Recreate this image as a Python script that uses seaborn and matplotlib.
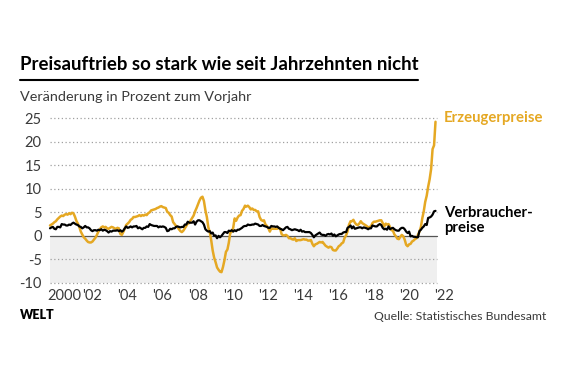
import pandas as pd
import matplotlib.pyplot as plt
import matplotlib.dates as mdates
import matplotlib.transforms as mtransforms
import seaborn as sns

OUTPUT = 'out.png'

# Veränderung zum Vorjahresmonat in %, Jan 2000 - Dez 2021 (eine Zeile je Jahr)
erzeuger = [
    2.2, 2.4, 2.6, 2.9, 3.1, 3.5, 3.8, 4.1, 4.3, 4.2, 4.5, 4.6,        # 2000
    4.5, 4.8, 4.6, 4.9, 4.8, 4.1, 3.2, 2.6, 1.9, 0.9, 0.3, -0.3,       # 2001
    -0.6, -1.0, -1.3, -1.4, -1.4, -1.2, -0.8, -0.4, 0.2, 0.9, 1.4, 1.8,  # 2002
    2.0, 1.8, 1.9, 1.6, 1.5, 1.7, 1.9, 1.8, 1.6, 1.5, 1.7, 1.6,        # 2003
    0.4, 0.2, 0.8, 1.5, 2.3, 2.6, 2.9, 3.4, 3.6, 4.0, 4.0, 4.1,        # 2004
    4.2, 4.4, 4.2, 4.4, 4.3, 4.5, 4.4, 4.8, 5.0, 5.4, 5.5, 5.6,        # 2005
    5.7, 5.9, 6.0, 6.2, 6.3, 6.1, 6.0, 5.9, 5.1, 4.9, 4.4, 4.1,        # 2006
    2.9, 2.5, 2.1, 1.9, 1.4, 1.0, 0.8, 1.1, 1.6, 2.1, 2.7, 2.7,        # 2007
    3.3, 3.8, 4.3, 5.2, 5.9, 6.7, 7.5, 8.1, 8.3, 7.4, 5.4, 4.0,        # 2008
    1.8, 0.7, -0.9, -3.1, -4.6, -5.6, -6.7, -7.2, -7.6, -7.7, -6.6, -5.2,  # 2009
    -3.4, -2.9, -1.5, 0.6, 0.9, 1.7, 3.7, 3.2, 3.9, 4.3, 4.4, 5.3,     # 2010
    5.7, 6.4, 6.2, 6.4, 6.1, 5.6, 5.8, 5.5, 5.5, 5.2, 5.2, 4.0,        # 2011
    3.4, 3.2, 3.3, 2.4, 2.1, 1.6, 0.9, 1.6, 1.5, 1.5, 1.5, 1.5,        # 2012
    1.7, 1.5, 0.4, 0.1, 0.1, 0.2, 0.0, -0.5, -0.5, -0.7, -0.8, -0.5,   # 2013
    -1.1, -0.9, -0.9, -0.9, -0.8, -0.7, -0.8, -0.8, -1.0, -1.0, -0.9, -1.7,  # 2014
    -2.2, -1.8, -1.7, -1.5, -1.3, -1.4, -1.3, -1.7, -2.1, -2.3, -2.5, -2.3,  # 2015
    -2.4, -3.0, -3.1, -3.1, -2.7, -2.2, -2.0, -1.6, -1.4, -0.4, 0.1, 1.0,    # 2016
    2.4, 3.1, 3.1, 3.4, 2.8, 2.4, 2.3, 2.6, 3.1, 2.7, 2.5, 2.3,        # 2017
    2.1, 1.8, 1.9, 2.0, 2.7, 3.0, 3.0, 3.1, 3.2, 3.3, 3.3, 2.7,        # 2018
    2.0, 2.6, 2.4, 2.5, 1.9, 1.2, 1.1, 0.3, -0.1, -0.6, -0.7, -0.2,    # 2019
    0.2, -0.1, -0.8, -1.9, -2.2, -1.8, -1.7, -1.2, -1.0, -0.7, -0.5, 0.2,  # 2020
    0.9, 1.9, 3.7, 5.2, 7.2, 8.5, 10.4, 12.0, 14.2, 18.4, 19.2, 24.2,  # 2021
]

verbraucher = [
    1.6, 1.8, 1.9, 1.5, 1.4, 1.9, 1.9, 1.8, 2.5, 2.4, 2.4, 2.2,        # 2000
    2.2, 2.4, 2.3, 2.6, 2.8, 2.6, 2.4, 2.3, 2.0, 1.9, 1.6, 1.8,        # 2001
    2.1, 1.8, 1.8, 1.6, 1.2, 1.0, 1.2, 1.2, 1.1, 1.3, 1.2, 1.4,        # 2002
    1.1, 1.3, 1.2, 1.0, 0.7, 1.0, 0.9, 1.1, 1.1, 1.1, 1.2, 1.0,        # 2003
    1.2, 0.9, 1.1, 1.6, 2.0, 1.7, 1.8, 2.0, 1.8, 2.0, 2.0, 2.1,        # 2004
    1.6, 1.8, 1.6, 1.4, 1.7, 1.7, 2.0, 1.9, 2.5, 2.3, 2.2, 2.1,        # 2005
    2.1, 2.1, 1.8, 2.0, 1.9, 2.0, 1.9, 1.7, 1.0, 1.1, 1.5, 1.4,        # 2006
    1.6, 1.6, 1.9, 2.0, 1.9, 1.8, 1.9, 1.9, 2.4, 2.4, 3.0, 2.8,        # 2007
    2.8, 2.8, 3.1, 2.4, 3.0, 3.3, 3.3, 3.1, 2.9, 2.4, 1.4, 1.1,        # 2008
    0.9, 1.0, 0.5, 0.7, 0.0, 0.1, -0.5, 0.0, -0.3, 0.0, 0.4, 0.8,      # 2009
    0.8, 0.6, 1.1, 1.0, 1.2, 0.9, 1.2, 1.0, 1.3, 1.3, 1.5, 1.7,        # 2010
    2.0, 2.1, 2.1, 2.4, 2.3, 2.3, 2.4, 2.4, 2.6, 2.5, 2.4, 2.1,        # 2011
    2.1, 2.3, 2.1, 2.0, 1.9, 1.7, 1.7, 2.1, 2.0, 2.0, 1.9, 2.0,        # 2012
    1.7, 1.5, 1.4, 1.2, 1.5, 1.8, 1.9, 1.5, 1.4, 1.2, 1.3, 1.4,        # 2013
    1.3, 1.2, 1.0, 1.3, 0.9, 1.0, 0.8, 0.8, 0.8, 0.8, 0.6, 0.2,        # 2014
    -0.3, 0.1, 0.3, 0.5, 0.7, 0.3, 0.2, 0.2, 0.0, 0.3, 0.4, 0.3,       # 2015
    0.5, 0.0, 0.3, -0.1, 0.1, 0.3, 0.4, 0.4, 0.7, 0.8, 0.8, 1.7,       # 2016
    1.9, 2.2, 1.6, 2.0, 1.5, 1.6, 1.7, 1.8, 1.8, 1.6, 1.8, 1.7,        # 2017
    1.6, 1.4, 1.6, 1.6, 2.2, 2.1, 2.0, 2.0, 2.3, 2.5, 2.3, 1.7,        # 2018
    1.4, 1.5, 1.3, 2.0, 1.4, 1.6, 1.7, 1.4, 1.2, 1.1, 1.1, 1.5,        # 2019
    1.7, 1.7, 1.4, 0.9, 0.6, 0.9, -0.1, 0.0, -0.2, -0.2, -0.3, -0.3,   # 2020
    1.0, 1.3, 1.7, 2.0, 2.5, 2.3, 3.8, 3.9, 4.1, 4.5, 5.2, 5.3,        # 2021
]

y_ticks = [-10, -5, 0, 5, 10, 15, 20, 25]
x_years = [2000, 2002, 2004, 2006, 2008, 2010, 2012, 2014, 2016, 2018, 2020, 2022]
x_labels = ['2000', "'02", "'04", "'06", "'08", "'10", "'12", "'14", "'16", "'18", "'20", "'22"]

ORANGE = '#E5A823'
GREY_TXT = '#3a3a3a'

sns.set_theme(style='white')
plt.rcParams['font.family'] = ['Lato', 'DejaVu Sans']

df = pd.DataFrame({
    'datum': pd.date_range('2000-01-01', periods=len(erzeuger), freq='MS'),
    'Erzeugerpreise': erzeuger,
    'Verbraucherpreise': verbraucher,
})

fig = plt.figure(figsize=(5.67, 3.78), dpi=100)
ax = fig.add_axes([50 / 567, 1 - 283 / 378, 387 / 567, 165 / 378])

x0 = pd.Timestamp('2000-01-01')
x1 = pd.Timestamp('2022-01-01')

# grauer Bereich unter Null
ax.axhspan(-10, 0, color='#efefef', zorder=0, lw=0)
for t in y_ticks:
    if t == 0:
        continue
    ax.axhline(t, color='#a0a0a0', lw=0.9, ls=(0, (1, 2)), zorder=1)
ax.axhline(0, color='#555555', lw=0.9, zorder=2)

sns.lineplot(data=df, x='datum', y='Erzeugerpreise', color=ORANGE, lw=1.8, ax=ax, zorder=3)
sns.lineplot(data=df, x='datum', y='Verbraucherpreise', color='black', lw=1.6, ax=ax, zorder=4)
for line in ax.lines:
    line.set_clip_on(False)

ax.set_xlim(x0, x1)
ax.set_ylim(-10, 25)
ax.set_xlabel('')
ax.set_ylabel('')
for s in ax.spines.values():
    s.set_visible(False)

ax.set_yticks(y_ticks)
ax.set_yticklabels([str(t) for t in y_ticks], fontsize=10.5, color=GREY_TXT)
ax.tick_params(axis='y', length=0, pad=6)

ax.set_xticks([pd.Timestamp(f'{y}-01-01') for y in x_years])
ax.set_xticklabels(x_labels, fontsize=10.5, color=GREY_TXT, ha='left')
ax.tick_params(axis='x', length=0, pad=4)
shift = mtransforms.ScaledTranslation(-3 / 100, 0, fig.dpi_scale_trans)
for lbl in ax.get_xticklabels():
    lbl.set_transform(lbl.get_transform() + shift)

# Beschriftung der Linien
ax.text(1.018, 25, 'Erzeugerpreise', transform=ax.get_yaxis_transform(),
        color=ORANGE, fontsize=10.7, fontweight='bold', va='center', ha='left')
ax.text(1.018, 3.2, 'Verbraucher-\npreise', transform=ax.get_yaxis_transform(),
        color='black', fontsize=10.7, fontweight='bold', va='center', ha='left',
        linespacing=1.05)

# Titel, Unterzeile, Fußzeile
fig.text(20 / 567, 1 - 64 / 378, 'Preisauftrieb so stark wie seit Jahrzehnten nicht',
         fontsize=13.4, fontweight='bold', color='black', va='center', ha='left')
fig.add_artist(plt.Line2D([20 / 567, 418 / 567], [1 - 80 / 378, 1 - 80 / 378],
                          color='black', lw=1.5))
fig.text(20 / 567, 1 - 97 / 378, 'Veränderung in Prozent zum Vorjahr',
         fontsize=10.4, color=GREY_TXT, va='center', ha='left')
fig.text(20 / 567, 1 - 315 / 378, 'WELT', fontsize=9, fontweight='heavy',
         color='black', va='center', ha='left')
fig.text(546 / 567, 1 - 316 / 378, 'Quelle: Statistisches Bundesamt',
         fontsize=8.8, color=GREY_TXT, va='center', ha='right')

fig.savefig(OUTPUT, dpi=100, facecolor='white')
